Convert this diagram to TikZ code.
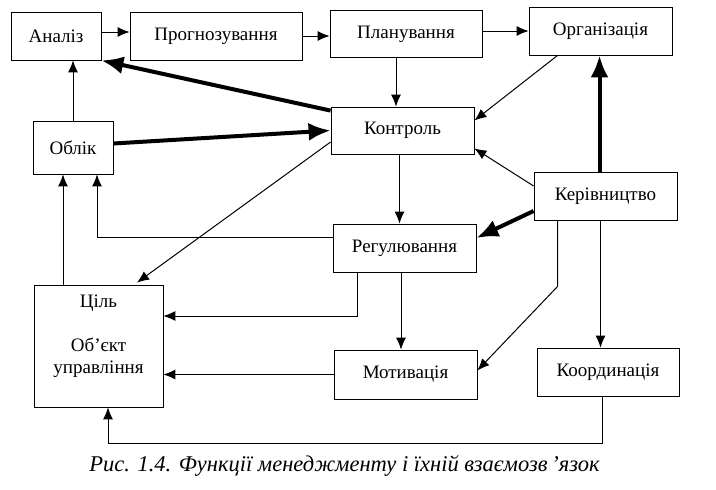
\documentclass[tikz,border=0pt]{standalone}
\usepackage{fontspec}
\setmainfont{Liberation Serif}
\usetikzlibrary{arrows.meta}
\begin{document}
	\begin{tikzpicture}[x=1pt,y=-1pt,
		func/.style={draw,line width=0.8pt,minimum width=143pt,minimum height=48pt,inner sep=0pt,font=\fontsize{19}{22}\selectfont},
		link/.style={line width=1pt,-{Latex[length=12pt,width=10pt]}},
		strong/.style={line width=4pt,-{Latex[length=22pt,width=18pt]}}]
		\useasboundingbox (0,0) rectangle (716,490);
		% functions
		\node[func,minimum width=90pt] (analiz) at (56,36) {Аналіз};
		\node[func,minimum width=172pt] (prog) at (216,36) {Прогнозування};
		\node[func,minimum width=152pt,minimum height=47pt] (plan) at (406,34) {Планування};
		\node[func] (org) at (600.5,31) {Організація};
		\node[func,minimum height=47pt] (kontrol) at (402.5,130.5) {Контроль};
		\node[func,minimum width=80pt,minimum height=53pt] (oblik) at (73,147.5) {Облік};
		\node[func] (keriv) at (605.5,196) {Керівництво};
		\node[func] (regul) at (404.5,248) {Регулювання};
		\node[func,minimum height=49pt] (motiv) at (405.5,374.5) {Мотивація};
		\node[func,minimum width=142pt] (koord) at (608,372) {Координація};
		\node[func,minimum width=129pt,minimum height=122pt] (cil) at (98.5,346) {};
		\node[font=\fontsize{19}{22}\selectfont] (cilname) at (98.5,303) {Ціль};
		\node[font=\fontsize{19}{22}\selectfont,align=center] (cilobj) at (98.5,358) {Об’єкт\\управління};
		% links
		\draw[link] ([yshift=4pt]analiz.east) -- ([yshift=4pt]prog.west);
		\draw[link] (prog.east) -- (prog.east -| plan.west);
		\draw[link] (plan.east |- org.west) -- (org.west);
		\draw[link] ([xshift=-10pt]plan.south) -- ([xshift=-10pt]plan.south |- kontrol.north);
		\draw[link] ([xshift=29pt]org.south west) -- ([yshift=10pt]kontrol.east);
		\draw[strong] ([yshift=-4pt]kontrol.north west) -- (analiz.south east);
		\draw[strong] ([yshift=4pt]oblik.east) -- (kontrol.west);
		\draw[link] (oblik.north) -- (oblik.north |- analiz.south);
		\draw[link] ([xshift=-3pt]kontrol.south) -- ([xshift=-3pt]kontrol.south |- regul.north);
		\draw[link] ([yshift=10pt]keriv.west) -- ([yshift=6pt]kontrol.south east);
		\draw[strong] ([yshift=-15pt]keriv.west) -- ([yshift=10pt]regul.east);
		\draw[strong] ([xshift=-6pt]keriv.north) -- ([xshift=-6pt]keriv.north |- org.south);
		\draw[link] ([xshift=24pt]keriv.south west) -- ++(0,66) -- ([yshift=4pt]motiv.east);
		\draw[link] ([xshift=-5pt]keriv.south) -- ([xshift=-5pt]keriv.south |- koord.north);
		\draw[link] ([xshift=-3.5pt]regul.south) -- ([xshift=-3.5pt]regul.south |- motiv.north);
		\draw[link] ([xshift=25pt]regul.south west) |- ([yshift=30pt]cil.east);
		\draw[link] (motiv.west) -- (motiv.west -| cil.east);
		\draw[link] ([xshift=-6pt]koord.south) -- ++(0,47) -| ([xshift=9.5pt]cil.south);
		\draw[link] ([yshift=11pt]regul.west) -| ([xshift=24pt]oblik.south);
		\draw[link] ([xshift=-10pt]oblik.south |- cil.north) -- ([xshift=-10pt]oblik.south);
		\draw[link] ([yshift=-11.5pt]kontrol.west) -- ([xshift=38.5pt,yshift=2pt]cil.north);
		% caption
		\node[font=\itshape\fontsize{22.5}{26}\selectfont] (caption) at (344.5,466) {Рис. 1.4. Функції менеджменту і їхній взаємозв\,'язок};
	\end{tikzpicture}
\end{document}
